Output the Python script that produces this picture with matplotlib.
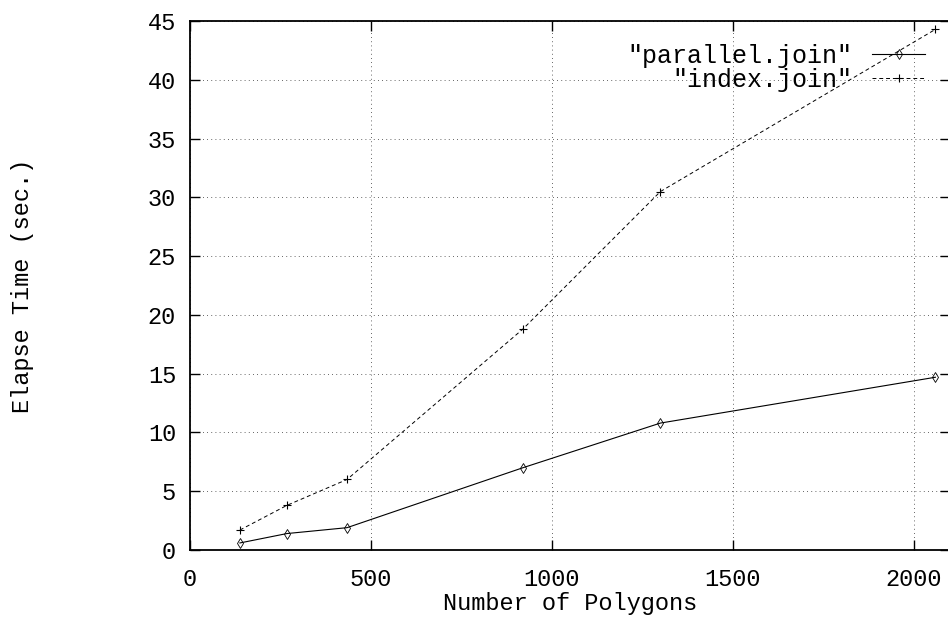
import matplotlib
matplotlib.use("Agg")
import matplotlib.pyplot as plt

polygons = [138, 268, 434, 920, 1300, 2060]
parallelJoin = [0.6, 1.4, 1.9, 7.0, 10.8, 14.7]
indexJoin = [1.7, 3.8, 6.0, 18.8, 30.5, 44.3]

xTicks = [0, 500, 1000, 1500, 2000]
yTicks = [0, 5, 10, 15, 20, 25, 30, 35, 40, 45]

plt.rcParams["font.family"] = ["Liberation Mono", "DejaVu Sans Mono"]
plt.rcParams["font.size"] = 17

fig = plt.figure(figsize=(9.48, 6.2), dpi=100)
ax = fig.add_axes([0.2004, 0.1129, 0.8016, 0.853])

ax.plot(polygons, parallelJoin, color="black", lw=0.8, marker="d", mfc="none",
        ms=5, mew=0.6, label='"parallel.join"')
ax.plot(polygons, indexJoin, color="black", lw=0.7, ls=(0, (4, 3)), marker="+",
        ms=6, mew=0.8, label='"index.join"')

ax.set_xlim(0, 2100)
ax.set_ylim(0, 45)
ax.set_xticks(xTicks)
ax.set_yticks(yTicks)
ax.tick_params(direction="in", top=True, right=True, length=7, width=1)
ax.tick_params(axis="x", pad=13)
ax.tick_params(axis="y", pad=10)
ax.grid(True, ls=(0, (1, 4)), color="#333333", lw=0.6)
for sp in ax.spines.values():
    sp.set_linewidth(1.3)

ax.set_xlabel("Number of Polygons", labelpad=1)
ax.set_ylabel("Elapse Time (sec.)", labelpad=82)

leg = ax.legend(loc="upper right", frameon=False, markerfirst=False,
                handlelength=2.1, handletextpad=0.8, borderaxespad=0.3,
                labelspacing=0.0, bbox_to_anchor=(0.99, 0.99), fontsize=18)
for t in leg.get_texts():
    t.set_ha("right")

fig.savefig("out.png", dpi=100)
